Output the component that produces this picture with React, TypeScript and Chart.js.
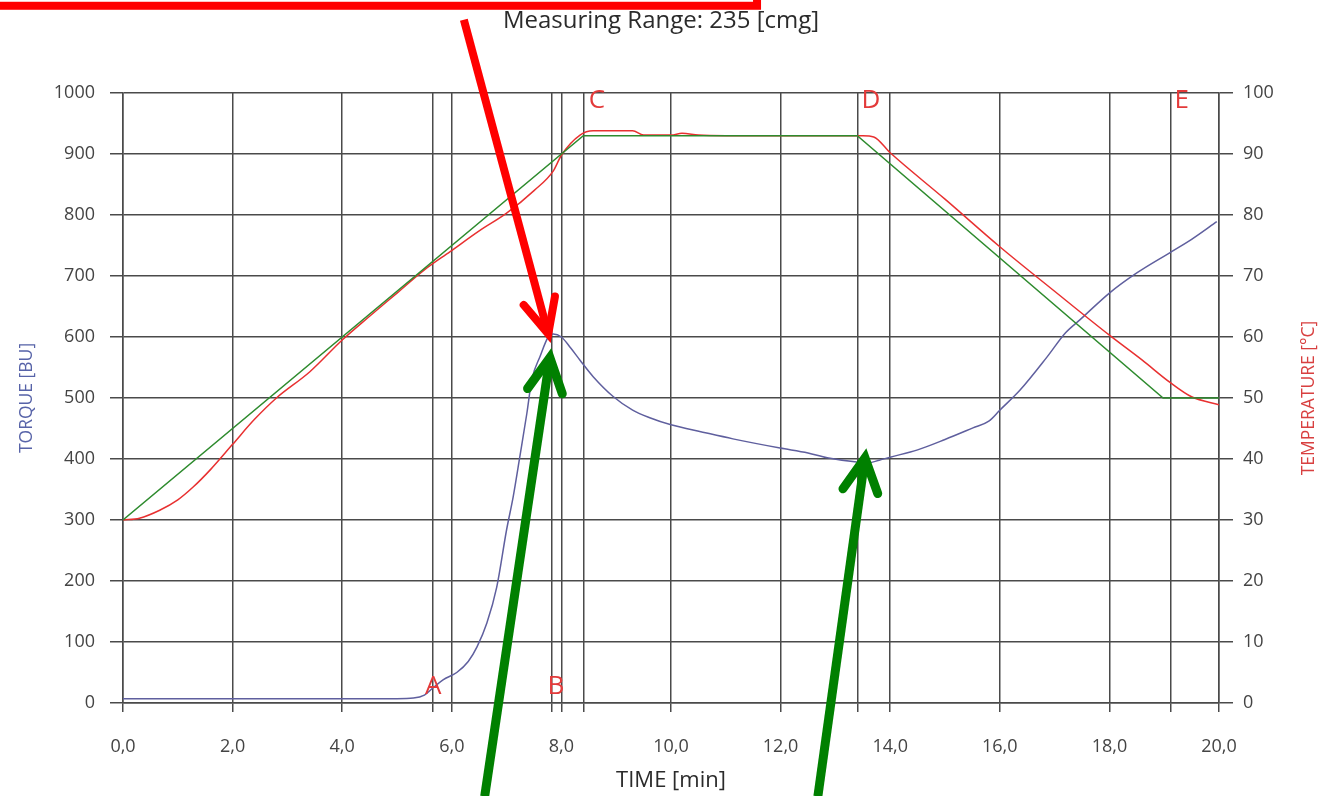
import React, { useEffect, useRef } from "react";
import { Chart, registerables } from "chart.js";

Chart.register(...registerables);

// ---- data ----
const chartTitle = "Measuring Range: 235 [cmg]";
const xTitle = "TIME [min]";
const leftTitle = "TORQUE [BU]";
const rightTitle = "TEMPERATURE [°C]";

const torqueTime = [0, 1, 2, 3, 4, 5, 5.3, 5.5, 5.66, 5.84, 6.09, 6.3, 6.46, 6.64, 6.82, 7.0, 7.12, 7.24, 7.37, 7.46, 7.61, 7.76, 7.85, 8.0, 8.17, 8.34, 8.58, 8.95, 9.3, 9.6, 10.0, 10.58, 11.13, 11.99, 12.5, 12.85, 13.39, 13.6, 13.8, 14.0, 14.5, 15.0, 15.51, 15.8, 16.0, 16.37, 16.86, 17.2, 17.46, 18.0, 18.5, 19.1, 19.5, 19.96];
const torqueBU = [7, 7, 7, 7, 7, 7, 8, 13, 25, 38, 50, 68, 92, 131, 190, 284, 338, 403, 475, 530, 568, 600, 605, 600, 582, 562, 535, 502, 480, 468, 456, 444, 433, 418, 410, 402, 395, 394, 398, 403, 415, 432, 451, 462, 480, 513, 567, 607, 628, 672, 705, 738, 760, 789];

const targetTime = [0, 8.4, 13.4, 18.98, 20];
const targetTemp = [30, 93, 93, 50, 50];

const actualTime = [0, 0.3, 0.67, 1.0, 1.28, 1.6, 2.0, 2.4, 2.8, 3.41, 4.0, 4.5, 5.0, 5.5, 5.97, 6.5, 7.0, 7.5, 7.85, 8.0, 8.34, 8.58, 9.3, 9.5, 10.0, 10.2, 10.5, 11.0, 12.0, 13.0, 13.5, 13.7, 14.0, 15.0, 16.0, 17.0, 18.0, 18.6, 19.1, 19.5, 20.0];
const actualTemp = [30, 30.3, 31.6, 33.3, 35.4, 38.3, 42.4, 46.5, 50, 54.3, 59.5, 63.4, 67.2, 71, 74.0, 77.4, 80.3, 84, 87.2, 89.8, 93.1, 93.8, 93.8, 93.1, 93.1, 93.4, 93.1, 93.0, 93.0, 93.0, 93.0, 92.8, 90.2, 82.6, 74.8, 67.5, 60.3, 56.2, 52.6, 50.2, 48.9];

const markerTimes = [5.66, 7.82, 8.4, 13.4, 19.12];
const markerLetters = ["A", "B", "C", "D", "E"];
const letterTime = [5.66, 7.9, 8.65, 13.65, 19.32];
const letterBU = [27, 27, 988, 988, 988];

const xTicks = [0, 2, 4, 6, 8, 10, 12, 14, 16, 18, 20];

// annotation arrows in data coordinates [tailX, tailY, tipX, tipY]
const redArrow = [6.22, 1120, 7.76, 605];
const greenArrows = [
  [6.6, -153, 7.79, 566],
  [12.68, -153, 13.54, 402],
];
const redBoxCorner = [11.57, 1143];

const GRID = "#4a4a4a";
const FONT = "'Open Sans', 'DejaVu Sans', sans-serif";

function drawArrow(ctx, x1, y1, x2, y2, color, width, headLen, headAng) {
  ctx.save();
  ctx.strokeStyle = color;
  ctx.lineWidth = width;
  ctx.lineCap = "butt";
  ctx.beginPath();
  ctx.moveTo(x1, y1);
  ctx.lineTo(x2, y2);
  ctx.stroke();
  const ang = Math.atan2(y1 - y2, x1 - x2);
  ctx.lineJoin = "miter";
  ctx.lineCap = "round";
  ctx.beginPath();
  ctx.moveTo(x2 + headLen * Math.cos(ang + headAng), y2 + headLen * Math.sin(ang + headAng));
  ctx.lineTo(x2, y2);
  ctx.lineTo(x2 + headLen * Math.cos(ang - headAng), y2 + headLen * Math.sin(ang - headAng));
  ctx.stroke();
  ctx.restore();
}

const overlayPlugin = {
  id: "overlay",
  afterDraw(chart) {
    const { ctx } = chart;
    const xs = chart.scales.x;
    const ys = chart.scales.y;
    ctx.save();
    // title
    ctx.fillStyle = "#2b2b2b";
    ctx.font = `24px ${FONT}`;
    ctx.textAlign = "center";
    ctx.textBaseline = "middle";
    ctx.fillText(chartTitle, 661, 21);
    // letters
    ctx.fillStyle = "#e33a3a";
    ctx.font = `26px ${FONT}`;
    markerLetters.forEach((l, i) => {
      ctx.fillText(l, xs.getPixelForValue(letterTime[i]), ys.getPixelForValue(letterBU[i]));
    });
    // axis titles
    ctx.font = `17.5px ${FONT}`;
    ctx.fillStyle = "#5763a8";
    ctx.save();
    ctx.translate(27, (chart.chartArea.top + chart.chartArea.bottom) / 2);
    ctx.rotate(-Math.PI / 2);
    ctx.fillText(leftTitle, 0, 0);
    ctx.restore();
    ctx.fillStyle = "#d84040";
    ctx.save();
    ctx.translate(1309, (chart.chartArea.top + chart.chartArea.bottom) / 2);
    ctx.rotate(-Math.PI / 2);
    ctx.fillText(rightTitle, 0, 0);
    ctx.restore();
    // red box
    ctx.strokeStyle = "#ff0000";
    ctx.lineWidth = 8;
    const bx = xs.getPixelForValue(redBoxCorner[0]);
    const by = ys.getPixelForValue(redBoxCorner[1]);
    ctx.strokeRect(-50, -60, bx + 50, by + 60);
    // arrows
    drawArrow(ctx, xs.getPixelForValue(redArrow[0]), ys.getPixelForValue(redArrow[1]), xs.getPixelForValue(redArrow[2]), ys.getPixelForValue(redArrow[3]), "#ff0000", 8, 38, 0.44);
    greenArrows.forEach((a) => {
      drawArrow(ctx, xs.getPixelForValue(a[0]), ys.getPixelForValue(a[1]), xs.getPixelForValue(a[2]), ys.getPixelForValue(a[3]), "#008000", 9, 38, 0.48);
    });
    ctx.restore();
  },
};

export default function App() {
  const ref = useRef(null);
  useEffect(() => {
    const chart = new Chart(ref.current, {
      type: "line",
      data: {
        datasets: [
          {
            label: "target",
            data: targetTime.map((t, i) => ({ x: t, y: targetTemp[i] })),
            yAxisID: "yT",
            borderColor: "#2e8b2e",
            borderWidth: 1.5,
            pointRadius: 0,
            tension: 0,
          },
          {
            label: "actual",
            data: actualTime.map((t, i) => ({ x: t, y: actualTemp[i] })),
            yAxisID: "yT",
            borderColor: "#e83030",
            borderWidth: 1.5,
            pointRadius: 0,
            cubicInterpolationMode: "monotone",
          },
          {
            label: "torque",
            data: torqueTime.map((t, i) => ({ x: t, y: torqueBU[i] })),
            yAxisID: "y",
            borderColor: "#5f5f9e",
            borderWidth: 1.5,
            pointRadius: 0,
            cubicInterpolationMode: "monotone",
          },
        ],
      },
      options: {
        responsive: false,
        animation: false,
        layout: { padding: { top: 93, left: 0, right: 0, bottom: 0 } },
        plugins: { legend: { display: false }, tooltip: { enabled: false } },
        scales: {
          x: {
            type: "linear",
            min: 0,
            max: 20,
            afterBuildTicks: (scale) => {
              scale.ticks = [...xTicks, ...markerTimes].sort((a, b) => a - b).map((v) => ({ value: v }));
            },
            afterFit: (scale) => {
              scale.height = 93;
            },
            ticks: {
              autoSkip: false,
              maxRotation: 0,
              padding: 24,
              color: "#444",
              font: { family: FONT, size: 18 },
              callback: (v) => (xTicks.includes(v) ? Number(v).toFixed(1).replace(".", ",") : ""),
            },
            grid: { color: GRID, lineWidth: 1.5, tickLength: 9 },
            border: { color: GRID, width: 1.5 },
            title: {
              display: true,
              text: xTitle,
              color: "#2b2b2b",
              font: { family: FONT, size: 22 },
              padding: { top: 0, bottom: 2 },
            },
          },
          y: {
            position: "left",
            min: 0,
            max: 1000,
            afterFit: (scale) => {
              scale.width = 123;
            },
            ticks: { stepSize: 100, padding: 15, color: "#444", font: { family: FONT, size: 18 }, callback: (v) => String(v) },
            grid: { color: GRID, lineWidth: 1.5, tickLength: 13 },
            border: { color: GRID, width: 1.5 },
          },
          yT: {
            position: "right",
            min: 0,
            max: 100,
            afterFit: (scale) => {
              scale.width = 102;
            },
            ticks: { stepSize: 10, padding: 10, color: "#444", font: { family: FONT, size: 18 }, callback: (v) => String(v) },
            grid: { color: GRID, lineWidth: 1.5, tickLength: 14, drawOnChartArea: false },
            border: { color: GRID, width: 1.5 },
          },
        },
      },
      plugins: [overlayPlugin],
    });
    return () => chart.destroy();
  }, []);
  return (
    <div style={{ position: "fixed", left: 0, top: 0, width: 1321, height: 796, background: "#fff" }}>
      <canvas ref={ref} width={1321} height={796} style={{ display: "block" }} />
    </div>
  );
}
